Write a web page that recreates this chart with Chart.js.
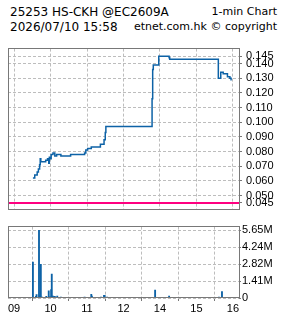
<!DOCTYPE html>
<html><head><meta charset="utf-8">
<script src="https://cdn.jsdelivr.net/npm/chart.js@4/dist/chart.umd.min.js"></script>
<style>
html,body{margin:0;padding:0;background:#fff;width:285px;height:318px;overflow:hidden;}
.t{position:absolute;font-family:'DejaVu Sans',sans-serif;font-size:12px;line-height:14px;color:#000;white-space:nowrap;}
canvas{position:absolute;left:0;}
</style></head><body>
<div class="t" style="left:10px;top:5px">25253 HS-CKH @EC2609A</div>
<div class="t" style="right:8px;top:5px;font-size:11px">1-min Chart</div>
<div class="t" style="left:10px;top:20px">2026/07/10 15:58</div>
<div class="t" style="right:8px;top:20px;font-size:11px">etnet.com.hk © copyright</div>
<canvas id="p" width="285" height="182" style="top:38px"></canvas>
<canvas id="v" width="285" height="99" style="top:219px"></canvas>
<script>
// ---- data ----
const priceTimes = ['09:31','09:34','09:38','09:40','09:42','09:43','09:44','09:52','09:55','09:57','09:58','09:59',
  '10:01','10:04','10:07','10:10','10:17','10:33','10:56','10:58','11:01','11:07','11:22','11:28','11:30','11:31',
  '13:47','13:48','13:49','13:58','14:15','14:16','15:36','15:40','15:44','15:51','15:55','15:57','15:58'];
const priceValues = [0.062,0.064,0.066,0.068,0.071,0.075,0.073,0.074,0.075,0.072,0.076,0.075,
  0.078,0.079,0.077,0.078,0.077,0.078,0.079,0.081,0.082,0.083,0.085,0.088,0.093,0.097,
  0.116,0.136,0.139,0.145,0.144,0.143,0.130,0.134,0.133,0.131,0.130,0.129,0.129];
const refLevel = 0.045;
const priceTicks = [0.145,0.140,0.130,0.120,0.110,0.100,0.090,0.080,0.070,0.060,0.050,0.045];
const volTimes = ['09:31','09:36','09:37','09:41','09:43','09:44','09:46','09:53','09:57','09:59',
  '10:01','10:02','10:04','10:07','10:11','10:17','10:56','11:07','11:08','11:23','11:28','11:29','11:33',
  '13:52','14:00','14:15','15:37','15:42'];
const volValues = [3000000,130000,280000,5650000,180000,2820000,80000,130000,600000,100000,
  700000,2000000,150000,130000,150000,80000,80000,310000,160000,80000,230000,230000,80000,
  670000,50000,160000,80000,540000];
const volTicks = [0,1410000,2820000,4240000,5650000];
const volTickLabels = ['0','1.41M','2.82M','4.24M','5.65M'];
const hourTicks = ['09:00','10:00','11:00','12:00','14:00','15:00','16:00'];
const hourLabels = ['09','10','11','12','14','15','16'];

// trading-minute axis (lunch 12:00-13:00 removed)
function tm(s){const [h,m]=s.split(':').map(Number);let t=(h-9)*60+m;if(h>=13)t-=60;return t;}

const BLUE='#0d62a6', GRID='#bdbdbd', FRAME='#787878';
const axFont={family:"'Liberation Sans',Arial,sans-serif",size:11};
const frame={id:'frame',afterDraw(c){const a=c.chartArea,ctx=c.ctx;ctx.save();ctx.strokeStyle=FRAME;ctx.lineWidth=1;
  ctx.strokeRect(Math.floor(a.left)+0.5,Math.floor(a.top)+0.5,Math.round(a.right-a.left),Math.round(a.bottom-a.top));ctx.restore();}};
const refLine={id:'refLine',afterDatasetsDraw(c){const a=c.chartArea,ctx=c.ctx;const y=Math.round(c.scales.y.getPixelForValue(refLevel));
  ctx.save();ctx.strokeStyle='#ff0080';ctx.lineWidth=2;ctx.beginPath();ctx.moveTo(a.left,y);ctx.lineTo(a.right,y);ctx.stroke();ctx.restore();}};

const xBase={type:'linear',min:-10,max:370,offset:false,
  afterBuildTicks(s){s.ticks=hourTicks.map(h=>({value:tm(h)}));},
  border:{display:false,dash:[3,2]}};

new Chart(document.getElementById('p'),{
  type:'line',
  data:{datasets:[{data:priceTimes.map((s,i)=>({x:tm(s),y:priceValues[i]})),stepped:true,
    borderColor:BLUE,borderWidth:1.5,pointRadius:0,fill:false}]},
  options:{responsive:false,animation:false,events:[],
    layout:{padding:{left:8,top:4,right:0,bottom:4}},
    plugins:{legend:{display:false},tooltip:{enabled:false}},
    scales:{
      x:Object.assign({},xBase,{ticks:{display:false},grid:{color:GRID,drawTicks:false},afterFit(s){s.height=0;}}),
      y:{type:'linear',position:'right',min:0.0405,max:0.1502,
        afterBuildTicks(s){s.ticks=priceTicks.map(v=>({value:v}));},
        afterFit(s){s.width=46;},
        border:{display:false,dash:[3,2]},
        grid:{color:GRID,drawTicks:true,tickLength:3,tickColor:FRAME,tickBorderDash:[]},
        ticks:{autoSkip:false,padding:4,color:'#000',font:axFont,callback:v=>v.toFixed(3)}}
    }},
  plugins:[refLine,frame]
});

new Chart(document.getElementById('v'),{
  type:'bar',
  data:{datasets:[{data:volTimes.map((s,i)=>({x:tm(s),y:volValues[i]})),backgroundColor:BLUE,barThickness:1.2}]},
  options:{responsive:false,animation:false,events:[],
    layout:{padding:{left:8,top:2,right:0,bottom:0}},
    plugins:{legend:{display:false},tooltip:{enabled:false}},
    scales:{
      x:Object.assign({},xBase,{
        grid:{color:GRID,drawTicks:true,tickLength:3,tickColor:FRAME,tickBorderDash:[]},
        ticks:{autoSkip:false,maxRotation:0,padding:1,color:'#000',font:axFont,callback:(v,i)=>hourLabels[i]},
        afterFit(s){s.height=20;}}),
      y:{type:'linear',position:'right',min:0,max:5960000,
        afterBuildTicks(s){s.ticks=volTicks.map(v=>({value:v}));},
        afterFit(s){s.width=46;},
        border:{display:false,dash:[3,2]},
        grid:{color:GRID,drawTicks:true,tickLength:2,tickColor:FRAME,tickBorderDash:[]},
        ticks:{autoSkip:false,padding:1,color:'#000',font:axFont,callback:(v,i)=>volTickLabels[i]}}
    }},
  plugins:[frame]
});
</script>
</body></html>
